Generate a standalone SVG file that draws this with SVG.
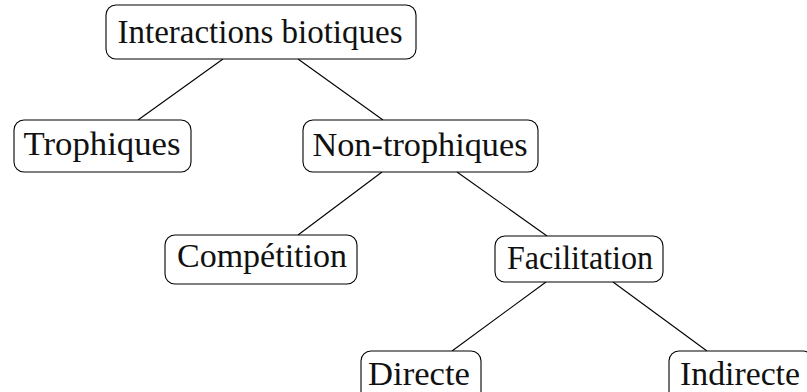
<svg xmlns="http://www.w3.org/2000/svg" width="807" height="392" viewBox="0 0 807 392">
<style>
.box{fill:#fff;stroke:#000;stroke-width:1.1}
.lbl{font-family:"Liberation Serif","Times New Roman",serif;font-size:33px;fill:#111;text-anchor:middle}
.edge{stroke:#000;stroke-width:1.1;fill:none}
</style>
<rect width="807" height="392" fill="#fff"/>
<g id="connectors">
<line class="edge" x1="223" y1="59" x2="138" y2="120"/>
<line class="edge" x1="298" y1="59" x2="383" y2="120"/>
<line class="edge" x1="382" y1="172" x2="298" y2="235"/>
<line class="edge" x1="457" y1="172" x2="547" y2="236"/>
<line class="edge" x1="546" y1="282" x2="452" y2="351"/>
<line class="edge" x1="613" y1="282" x2="707" y2="351"/>
</g>
<g id="root">
<rect class="box" x="106" y="5" width="310" height="54" rx="10"/>
<text class="lbl" x="260" y="43" textLength="285" lengthAdjust="spacingAndGlyphs">Interactions biotiques</text>
</g>
<g id="trophiques">
<rect class="box" x="14" y="120" width="177" height="52" rx="10"/>
<text class="lbl" x="102" y="155" textLength="157" lengthAdjust="spacingAndGlyphs">Trophiques</text>
</g>
<g id="nontrophiques">
<rect class="box" x="303" y="120" width="235" height="52" rx="10"/>
<text class="lbl" x="420" y="156" textLength="215" lengthAdjust="spacingAndGlyphs">Non-trophiques</text>
</g>
<g id="competition">
<rect class="box" x="165" y="235" width="192" height="49" rx="10"/>
<text class="lbl" x="262" y="267" textLength="170" lengthAdjust="spacingAndGlyphs">Compétition</text>
</g>
<g id="facilitation">
<rect class="box" x="495" y="236" width="168" height="46" rx="10"/>
<text class="lbl" x="580" y="269" textLength="146" lengthAdjust="spacingAndGlyphs">Facilitation</text>
</g>
<g id="directe">
<rect class="box" x="361" y="351" width="120" height="52" rx="10"/>
<text class="lbl" x="419" y="385" textLength="102" lengthAdjust="spacingAndGlyphs">Directe</text>
</g>
<g id="indirecte">
<rect class="box" x="669" y="351" width="144" height="52" rx="10"/>
<text class="lbl" x="740" y="385" textLength="120" lengthAdjust="spacingAndGlyphs">Indirecte</text>
</g>
</svg>
